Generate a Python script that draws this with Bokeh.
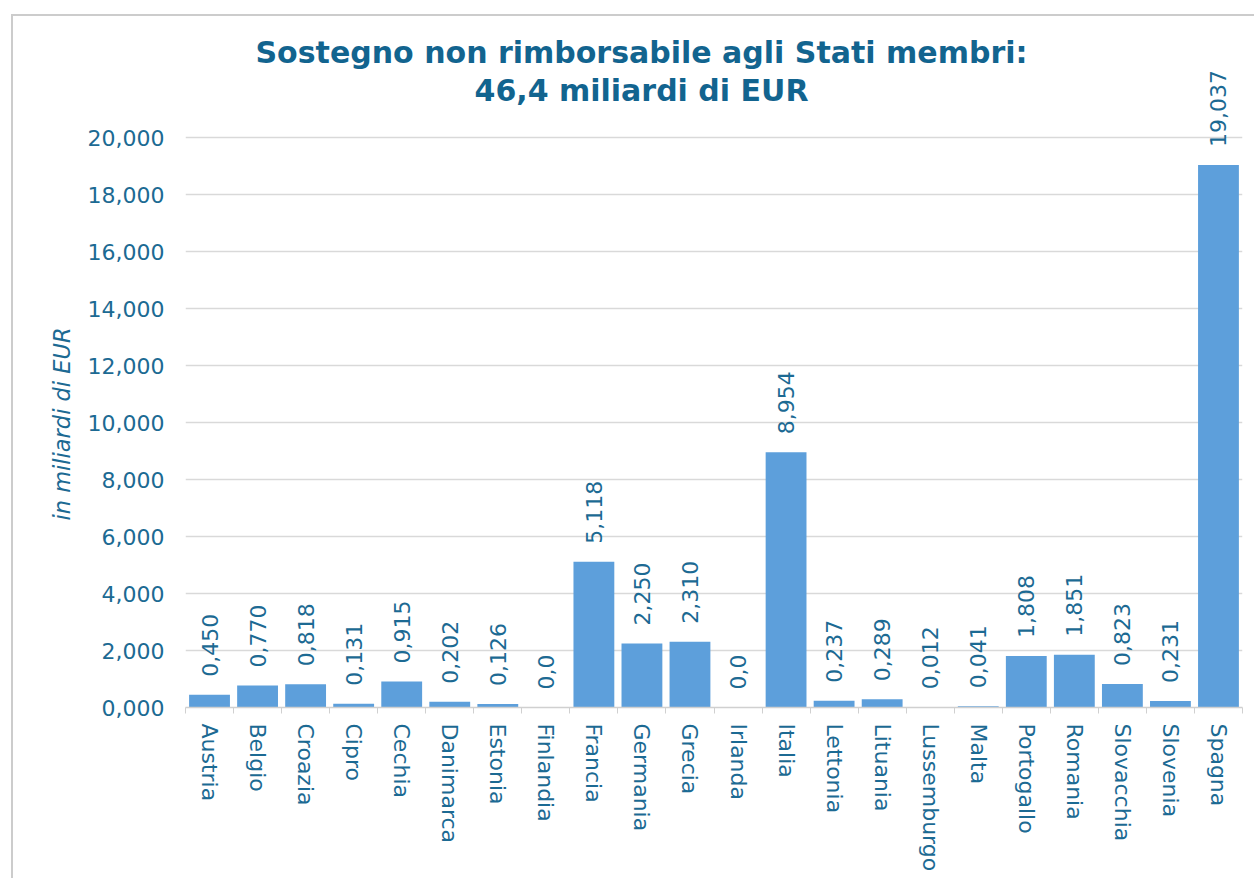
import math
from bokeh.plotting import figure
from bokeh.models import (ColumnDataSource, FactorRange, Range1d, LabelSet, Label, Title,
                          LinearAxis, CategoricalAxis, FixedTicker, CategoricalTicker)
from bokeh.core.properties import value
from bokeh.embed import file_html
from bokeh.resources import INLINE

countries = ["Austria", "Belgio", "Croazia", "Cipro", "Cechia", "Danimarca", "Estonia",
             "Finlandia", "Francia", "Germania", "Grecia", "Irlanda", "Italia", "Lettonia",
             "Lituania", "Lussemburgo", "Malta", "Portogallo", "Romania", "Slovacchia",
             "Slovenia", "Spagna"]
values = [0.450, 0.770, 0.818, 0.131, 0.915, 0.202, 0.126, 0.0, 5.118, 2.250, 2.310, 0.0,
          8.954, 0.237, 0.289, 0.012, 0.041, 1.808, 1.851, 0.823, 0.231, 19.037]
y_ticks = [0, 2, 4, 6, 8, 10, 12, 14, 16, 18, 20]
y_tick_labels = ["0,000", "2,000", "4,000", "6,000", "8,000", "10,000", "12,000",
                 "14,000", "16,000", "18,000", "20,000"]
title_lines = ["Sostegno non rimborsabile agli Stati membri:", "46,4 miliardi di EUR"]
y_title = "in miliardi di EUR"

value_labels = ["0,0" if v == 0 else f"{v:.3f}".replace(".", ",") for v in values]

TEXT = "#1c6a93"
TITLE = "#12648f"
BAR = "#5d9fdb"
GRID = "#d9d9d9"
FONT = "DejaVu Sans"

FRAME_H = 677
Y_MAX = 20 * FRAME_H / 570.0

src = ColumnDataSource(dict(x=countries, top=values, lab=value_labels))

p = figure(width=1241, height=862, frame_width=1057, frame_height=FRAME_H,
           x_range=FactorRange(*countries), y_range=Range1d(0, Y_MAX),
           output_backend="svg", toolbar_location=None, x_axis_location=None,
           min_border_left=172, min_border_top=14, min_border_bottom=171, min_border_right=12)
p.margin = (14, 0, 0, 11)
p.styles = {"border-left": "2px solid #cccccc", "border-top": "2px solid #cccccc"}
p.outline_line_color = None
p.background_fill_color = "white"
p.border_fill_color = "white"

p.vbar(x="x", top="top", width=0.85, source=src, fill_color=BAR, line_color=None)

p.add_layout(LabelSet(x="x", y="top", text="lab", source=src, angle=math.pi / 2,
                      text_align="left", text_baseline="middle", y_offset=18,
                      text_font=value(FONT), text_font_size="22px", text_color=TEXT))

# y axis
ya = p.yaxis[0]
ya.ticker = FixedTicker(ticks=y_ticks)
ya.major_label_overrides = {t: l for t, l in zip(y_ticks, y_tick_labels)}
ya.axis_line_color = None
ya.major_tick_line_color = None
ya.minor_tick_line_color = None
ya.major_label_standoff = 15
ya.major_label_text_font = FONT
ya.major_label_text_font_size = "22px"
ya.major_label_text_color = TEXT

# y-axis title, placed alongside the 0..20 part of the axis
p.add_layout(Title(text=y_title, align="left", offset=187, standoff=20,
                   text_font=FONT, text_font_size="22.5px", text_font_style="italic",
                   text_color=TEXT), "left")

p.ygrid.grid_line_color = GRID
p.ygrid.grid_line_width = 1.5
p.ygrid.ticker = FixedTicker(ticks=y_ticks)
p.xgrid.grid_line_color = None

# boundary ticks axis
ta = LinearAxis(ticker=FixedTicker(ticks=list(range(len(countries) + 1))),
                major_label_overrides={i: "" for i in range(len(countries) + 1)},
                major_label_text_font_size="1px", major_label_standoff=0,
                major_tick_out=6, major_tick_in=0, major_tick_line_color="#d0d0d0",
                minor_tick_line_color=None, axis_line_color="#d0d0d0", axis_line_width=1.5)
p.add_layout(ta, "below")

ca = CategoricalAxis(ticker=CategoricalTicker(), major_label_orientation="vertical",
                     major_tick_line_color=None, axis_line_color=None,
                     major_label_standoff=4, major_label_text_font=FONT,
                     major_label_text_font_size="22px", major_label_text_color=TEXT)
p.add_layout(ca, "below")

for line, yy in zip(title_lines, [655, 617]):
    p.add_layout(Label(x=456, y=yy, x_units="screen", y_units="screen", text=line,
                       text_align="center", text_baseline="middle", text_font=FONT,
                       text_font_size="30px", text_font_style="bold", text_color=TITLE))

open("out.html", "w").write(file_html(p, INLINE))
